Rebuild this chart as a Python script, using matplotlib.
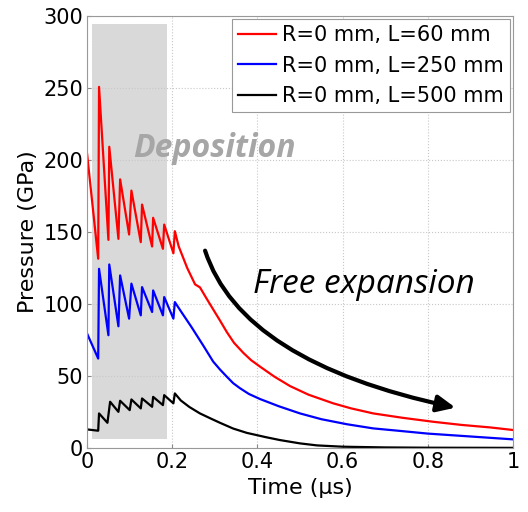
import numpy as np
import matplotlib
matplotlib.use("Agg")
import matplotlib.pyplot as plt

# pressure histories, time in us, pressure in GPa
t_red = [0, 0.026, 0.028, 0.050, 0.052, 0.0735, 0.0775, 0.0986, 0.104, 0.126, 0.129,
         0.1526, 0.155, 0.178, 0.181, 0.2026, 0.206, 0.215, 0.235, 0.2535, 0.265, 0.28,
         0.2965, 0.312, 0.328, 0.345, 0.367, 0.385, 0.406, 0.44, 0.4765, 0.52, 0.578,
         0.62, 0.672, 0.74, 0.813, 0.88, 0.946, 1.0]
p_red = [204, 131.4, 250.7, 144.5, 209.1, 145.2, 186.5, 148.2, 178.7, 142.9, 169.0,
         139.9, 159.8, 138.3, 155.1, 135.2, 150.5, 140, 125, 113.6, 111.5, 104,
         96, 88.5, 80.5, 73, 66, 61, 56.5, 49.5, 43, 37, 31,
         27.5, 24, 21, 18.2, 16, 14.3, 12.5]

t_blue = [0, 0.026, 0.028, 0.050, 0.052, 0.0735, 0.0775, 0.0986, 0.104, 0.126, 0.129,
          0.1526, 0.155, 0.178, 0.181, 0.2026, 0.206, 0.22, 0.245, 0.273, 0.296, 0.312,
          0.328, 0.343, 0.359, 0.38, 0.406, 0.45, 0.5, 0.55, 0.61, 0.672, 0.73, 0.8,
          0.9, 1.0]
p_blue = [79.4, 62.1, 124.4, 78.3, 127.4, 84.5, 119.8, 89.8, 114.1, 92.1, 111.7,
          94.4, 109.4, 92.1, 104.8, 89.8, 101.3, 95, 84, 71, 60, 54.5,
          49.5, 45, 41.5, 37.5, 34, 29, 24, 20, 16.5, 13.6, 12, 10,
          8, 6]

t_black = [0, 0.026, 0.028, 0.0477, 0.054, 0.0735, 0.0775, 0.1, 0.104, 0.126, 0.129,
           0.1526, 0.155, 0.178, 0.181, 0.2026, 0.206, 0.22, 0.24, 0.265, 0.29, 0.312,
           0.343, 0.375, 0.42, 0.453, 0.5, 0.54, 0.6, 0.7, 0.8, 1.0]
p_black = [12.9, 12.0, 24.0, 17.5, 32.1, 25.1, 32.8, 26.3, 33.7, 27.5, 34.4,
           28.6, 35.5, 29.8, 36.7, 31.0, 37.9, 33, 28.5, 24, 20.5, 17.5,
           13.5, 10.5, 7.5, 5.5, 3.2, 1.8, 0.9, 0.4, 0.2, 0.1]

labels = ["R=0 mm, L=60 mm", "R=0 mm, L=250 mm", "R=0 mm, L=500 mm"]
xticks = [0, 0.2, 0.4, 0.6, 0.8, 1]
xticklabels = ["0", "0.2", "0.4", "0.6", "0.8", "1"]
yticks = [0, 50, 100, 150, 200, 250, 300]

# deposition window (shaded) and arrow ends
dep_t = [0.011, 0.188]
dep_p = [6.5, 294.5]
arrow_start = (0.277, 137)
arrow_end = (0.865, 28)

plt.rcParams['font.family'] = 'DejaVu Sans'

fig = plt.figure(figsize=(5.28, 5.12), dpi=100)
ax = fig.add_axes([0.165, 0.125, 0.8065, 0.844])

ax.fill_between(dep_t, dep_p[0], dep_p[1], color='#d9d9d9', lw=0, zorder=0)

ax.plot(t_red, p_red, color='#ff0000', lw=1.6, label=labels[0])
ax.plot(t_blue, p_blue, color='#0000ff', lw=1.6, label=labels[1])
ax.plot(t_black, p_black, color='black', lw=1.6, label=labels[2])

ax.text(0.298, 201.7, "Deposition", family='Open Sans', style='italic', weight='bold',
        fontsize=23, color='#a6a6a6', ha='center', va='baseline')
ax.text(0.650, 107.3, "Free expansion", family='Open Sans', style='italic',
        fontsize=24, color='black', ha='center', va='baseline')

ax.annotate('', xy=arrow_end, xytext=arrow_start,
            arrowprops=dict(arrowstyle='-|>,head_length=1.1,head_width=0.5',
                            connectionstyle='angle3,angleA=-72,angleB=-12', lw=3,
                            color='black', shrinkA=0, shrinkB=0))

ax.set_xlim(0, 1)
ax.set_ylim(0, 300)
ax.set_xticks(xticks)
ax.set_xticklabels(xticklabels)
ax.set_yticks(yticks)
ax.tick_params(direction='in', length=3, labelsize=15, color='#888888', pad=3)
ax.grid(True, linestyle=':', color='#c8c8c8', lw=0.8)
ax.set_axisbelow(True)
for s in ax.spines.values():
    s.set_color('#999999')

ax.set_xlabel("Time (μs)", fontsize=16, labelpad=4)
ax.set_ylabel("Pressure (GPa)", fontsize=16, labelpad=4)

leg = ax.legend(loc='upper right', fontsize=15, fancybox=False, framealpha=1,
                edgecolor='#999999', handlelength=1.8, handletextpad=0.3,
                borderpad=0.3, labelspacing=0.5, borderaxespad=0.15)
leg.get_frame().set_linewidth(0.8)

fig.savefig("out.png", dpi=100)
